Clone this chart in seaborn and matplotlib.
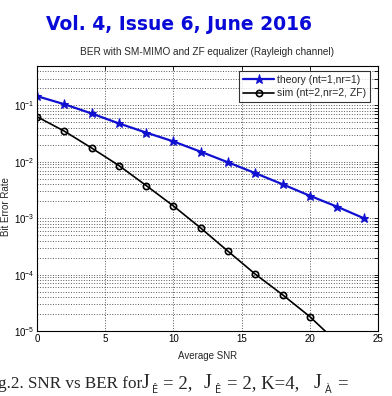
import numpy as np
import pandas as pd
import seaborn as sns
import matplotlib
matplotlib.use("Agg")
import matplotlib.pyplot as plt
from matplotlib.ticker import LogLocator, NullFormatter, FixedLocator

# values
snr_theory = [0, 2, 4, 6, 8, 10, 12, 14, 16, 18, 20, 22, 24]
ber_theory = [0.146, 0.105, 0.072, 0.048, 0.033, 0.023, 0.0151, 0.0098,
              0.0063, 0.0040, 0.0025, 0.0016, 0.00099]
snr_sim = [0, 2, 4, 6, 8, 10, 12, 14, 16, 18, 20, 22]
ber_sim = [0.063, 0.035, 0.0176, 0.0086, 0.0038, 0.00165, 0.00067,
           0.00026, 0.000102, 0.000044, 0.000018, 0.0000063]
x_ticks = [0, 5, 10, 15, 20, 25]
y_ticks = [1e-5, 1e-4, 1e-3, 1e-2, 1e-1]

df_th = pd.DataFrame({"snr": snr_theory, "ber": ber_theory})
df_sim = pd.DataFrame({"snr": snr_sim, "ber": ber_sim})

sns.set_style("white")
plt.rcParams["font.family"] = ["Liberation Sans", "DejaVu Sans"]

fig = plt.figure(figsize=(3.92, 3.96), dpi=100)
W, H = 392, 396
ax = fig.add_axes([37 / W, 1 - 331 / H, 341 / W, 265 / H])

sns.lineplot(data=df_th, x="snr", y="ber", ax=ax, color="#1010d0", lw=1.6,
             marker="*", markersize=6.5, markeredgecolor="#1010d0",
             label="theory (nt=1,nr=1)")
sns.lineplot(data=df_sim, x="snr", y="ber", ax=ax, color="black", lw=1.2,
             marker="o", markersize=4.5, markerfacecolor="none",
             markeredgecolor="black", markeredgewidth=1.2,
             label="sim (nt=2,nr=2, ZF)")

ax.set_yscale("log")
ax.set_xlim(0, 25)
ax.set_ylim(1e-5, 0.5)
ax.xaxis.set_major_locator(FixedLocator(x_ticks))
ax.yaxis.set_major_locator(FixedLocator(y_ticks))
ax.yaxis.set_minor_locator(LogLocator(base=10, subs=np.arange(2, 10)))
ax.yaxis.set_minor_formatter(NullFormatter())

ax.grid(False)
ax.yaxis.grid(True, which="both", ls=":", color="0.35", lw=0.7)
ax.xaxis.grid(True, which="major", ls=":", color="0.35", lw=0.7)
ax.set_axisbelow(True)

ax.tick_params(axis="both", which="both", direction="in", labelsize=7,
               colors="black", top=True, right=True, length=3, width=0.6)
ax.tick_params(axis="both", which="major", pad=2)
for s in ax.spines.values():
    s.set_visible(True)
    s.set_color("black")
    s.set_linewidth(0.8)

ax.set_xlabel("Average SNR", fontsize=7, labelpad=5)
ax.set_ylabel("Bit Error Rate", fontsize=7)
ax.yaxis.set_label_coords(-0.075, 0.47)
ax.set_title("BER with SM-MIMO and ZF equalizer (Rayleigh channel)",
             fontsize=7.2, pad=8)

leg = ax.legend(loc="upper right", bbox_to_anchor=(0.977, 0.981),
                borderaxespad=0, fontsize=7.5, handlelength=3,
                frameon=True, fancybox=False, borderpad=0.35,
                labelspacing=0.35, handletextpad=0.3)
leg.get_frame().set_edgecolor("black")
leg.get_frame().set_linewidth(0.8)

fig.text(179 / W, 1 - 24 / H, "Vol. 4, Issue 6, June 2016", ha="center",
         va="center", fontsize=13.5, fontweight="bold", color="#0a0ad8",
         family="DejaVu Sans")

# caption, cut at the left edge like the scanned page
# (text, fontsize, left x px, baseline y px)
pieces = [("g.2. SNR vs BER for", 12.3, -2, 388),
          ("J", 14.5, 142, 388),
          ("Ê", 7, 152, 393),
          ("= 2,", 13.5, 163, 388),
          ("J", 14.5, 204, 388),
          ("Ê", 7, 215, 393),
          ("= 2, K=4,", 13.5, 227, 388),
          ("J", 14.5, 314, 388),
          ("À", 7, 325, 393),
          ("=", 13.5, 337, 388)]
for txt, fs, xp, yp in pieces:
    fam = "DejaVu Sans" if fs < 10 else "Liberation Serif"
    fig.text(xp / W, 1 - yp / H, txt, fontsize=fs, family=fam, va="baseline")

fig.savefig("out.png", dpi=100, facecolor="white")
